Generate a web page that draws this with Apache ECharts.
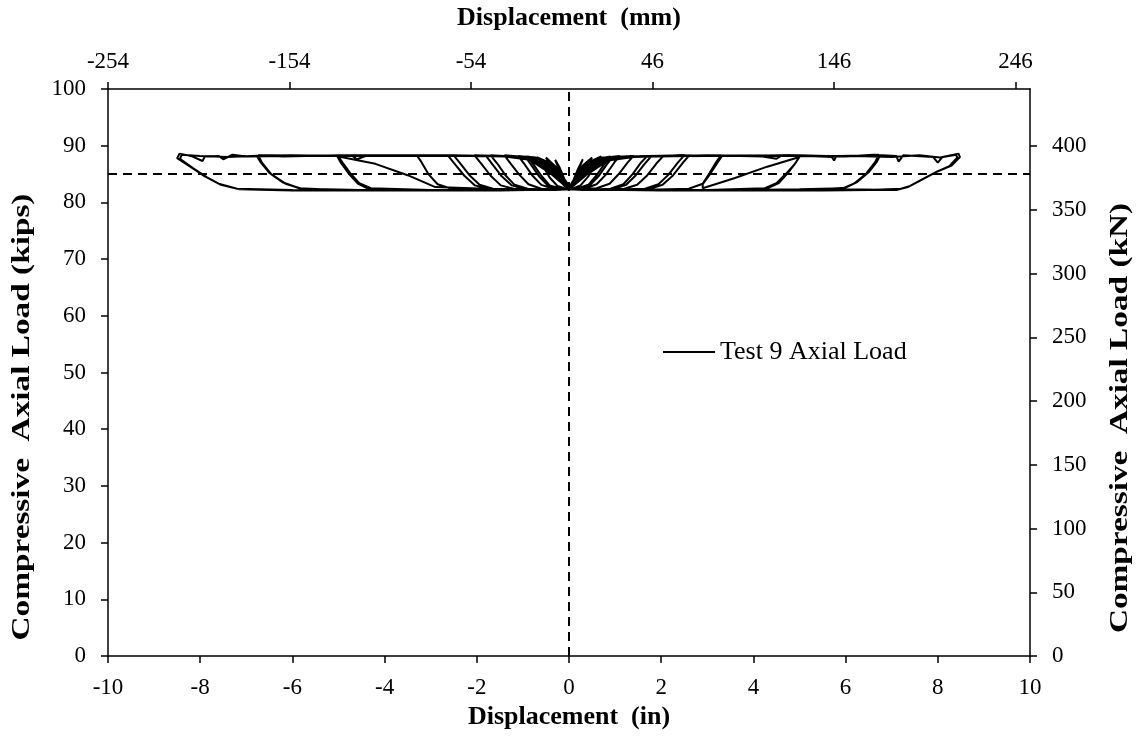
<!DOCTYPE html>
<html>
<head>
<meta charset="utf-8">
<title>Test 9 Axial Load</title>
<script src="https://cdn.jsdelivr.net/npm/echarts@6/dist/echarts.min.js"></script>
<style>
  html, body { margin: 0; padding: 0; background: #fff; }
  #main { width: 1141px; height: 746px; }
</style>
</head>
<body>
<div id="main"></div>
<script>
// displacement (in) vs compressive axial load (kips), cycle by cycle
var cycle030 = [[0,82.6],[0.1,84.0],[0.2,86.0],[0.3,87.6],[0.22,86.0],[0.12,84.2],[0.02,82.7],[-0.1,84.1],[-0.2,86.1],[-0.3,87.5],[-0.22,85.8],[-0.12,84.0],[0,82.6]];
var cycle050 = [[0,82.5],[0.15,84.5],[0.3,86.5],[0.5,87.9],[0.4,86.8],[0.25,84.6],[0.1,83.0],[0,82.5],[-0.15,84.4],[-0.3,86.4],[-0.5,87.9],[-0.4,86.6],[-0.25,84.4],[-0.1,82.9],[0,82.5]];
var cycle070 = [[0,82.4],[0.2,85.0],[0.4,87.0],[0.7,88.1],[0.58,86.8],[0.42,84.6],[0.25,83.0],[0.1,82.5],[0,82.4],[-0.2,84.9],[-0.4,86.9],[-0.7,88.0],[-0.58,86.6],[-0.42,84.4],[-0.25,82.9],[-0.1,82.5],[0,82.4]];
var cycle090 = [[0,82.4],[0.2,84.6],[0.45,86.8],[0.7,87.8],[0.9,88.1],[0.78,86.9],[0.6,84.8],[0.42,83.1],[0.2,82.5],[0,82.4],[-0.2,84.5],[-0.45,86.7],[-0.7,87.8],[-0.9,88.1],[-0.78,86.8],[-0.6,84.7],[-0.42,83.0],[-0.2,82.5],[0,82.4],
  [0.22,84.8],[0.47,86.9],[0.72,87.9],[0.95,88.0],[0.82,86.7],[0.64,84.6],[0.45,83.0],[0.22,82.4],[0,82.4],[-0.22,84.7],[-0.47,86.8],[-0.72,87.9],[-0.95,88.1],[-0.82,86.6],[-0.64,84.5],[-0.45,82.9],[-0.22,82.4],[0,82.4]];
var cycle110 = [[0,82.4],[0.25,84.8],[0.5,86.9],[0.8,87.9],[1.1,88.2],[0.98,87.0],[0.8,84.9],[0.6,83.2],[0.35,82.5],[0,82.3],[-0.25,84.7],[-0.5,86.8],[-0.8,87.9],[-1.1,88.2],[-0.98,86.9],[-0.8,84.8],[-0.6,83.1],[-0.35,82.4],[0,82.3]];
var cycle140 = [[0,82.3],[0.3,85.0],[0.6,87.2],[0.95,88.0],[1.4,88.2],[1.27,87.0],[1.08,85.0],[0.88,83.3],[0.6,82.5],[0.2,82.3],[0,82.3],[-0.3,84.9],[-0.6,87.1],[-0.95,88.0],[-1.4,88.3],[-1.27,86.9],[-1.08,84.9],[-0.88,83.2],[-0.6,82.4],[-0.2,82.3],[0,82.3]];
var cycle170 = [[0,82.3],[0.3,84.9],[0.65,87.3],[1.0,88.0],[1.7,88.2],[1.56,87.0],[1.38,85.0],[1.18,83.2],[0.9,82.4],[0.3,82.2],[0,82.3],[-0.3,84.8],[-0.65,87.2],[-1.0,88.0],[-1.7,88.3],[-1.56,86.9],[-1.38,84.8],[-1.18,83.1],[-0.9,82.4],[-0.3,82.2],[0,82.3],
  [0.32,85.0],[0.68,87.4],[1.05,88.1],[1.78,88.1],[1.64,86.8],[1.45,84.8],[1.24,83.1],[0.95,82.3],[0.3,82.3],[0,82.3],[-0.32,84.9],[-0.68,87.3],[-1.05,88.1],[-1.8,88.2],[-1.66,86.7],[-1.46,84.6],[-1.24,83.0],[-0.95,82.3],[-0.3,82.3],[0,82.3]];
var cycle205 = [[0,82.3],[0.35,85.2],[0.7,87.4],[1.1,88.1],[2.05,88.2],[1.9,86.9],[1.7,84.8],[1.48,83.1],[1.2,82.4],[0.4,82.2],[0,82.3],[-0.35,85.1],[-0.7,87.3],[-1.1,88.1],[-2.05,88.3],[-1.9,86.8],[-1.7,84.7],[-1.48,83.0],[-1.2,82.4],[-0.4,82.2],[0,82.3]];
var cycle250 = [[0,82.3],[0.35,85.1],[0.75,87.5],[1.2,88.1],[2.5,88.3],[2.36,87.0],[2.16,84.9],[1.94,83.2],[1.65,82.4],[0.5,82.2],[0,82.3],[-0.35,85.0],[-0.75,87.4],[-1.2,88.1],[-2.5,88.3],[-2.36,86.9],[-2.16,84.8],[-1.94,83.1],[-1.65,82.4],[-0.5,82.2],[0,82.3],
  [0.37,85.2],[0.77,87.5],[1.25,88.0],[2.6,88.2],[2.46,86.9],[2.26,84.8],[2.03,83.1],[1.72,82.3],[0.5,82.3],[0,82.3],[-0.37,85.1],[-0.77,87.4],[-1.25,88.2],[-2.62,88.2],[-2.48,86.8],[-2.27,84.7],[-2.04,83.0],[-1.72,82.3],[-0.5,82.3],[0,82.3]];
var cycle330 = [[0,82.3],[0.4,85.3],[0.8,87.6],[1.3,88.1],[2.5,88.2],[3.3,88.3],[3.2,87.2],[3.05,85.2],[2.9,83.3],[2.6,82.4],[1.5,82.2],[0,82.3],[-0.4,85.2],[-0.8,87.5],[-1.3,88.1],[-2.5,88.3],[-3.3,88.3],[-3.2,87.1],[-3.05,85.0],[-2.85,83.2],[-2.55,82.4],[-1.5,82.2],[0,82.3],
  [0.4,85.2],[0.8,87.5],[1.3,88.0],[2.4,88.3],[3.32,88.2],[3.22,87.0],[3.06,85.0],[2.9,83.2],[2.9,82.5]];
var cycle500 = [[2.9,82.5],[3.6,84.3],[4.3,86.3],[5.0,88.0],[4.9,86.8],[4.7,85.0],[4.5,83.4],[4.25,82.5],[3.0,82.2],[1.5,82.3],[0,82.3],[-1.5,82.3],[-2.9,82.7],[-3.5,84.8],[-4.2,86.8],[-5.0,88.1],[-4.9,86.9],[-4.75,85.2],[-4.55,83.4],[-4.3,82.5],[-3.0,82.2],[-1.5,82.2],[0,82.3],
  [0.4,85.3],[0.85,87.6],[1.4,88.1],[3.0,88.3],[4.2,88.1],[4.5,87.7],[4.6,88.2],[5.0,88.2],[4.92,87.0],[4.75,85.2],[4.55,83.4],[4.3,82.5],[3.0,82.1],[1.5,82.2],[0,82.3],
  [-0.4,85.2],[-0.85,87.5],[-1.4,88.1],[-3.0,88.3],[-4.4,88.2],[-4.6,87.6],[-4.7,88.2],[-5.03,88.2],[-4.95,87.0],[-4.78,85.1],[-4.58,83.3],[-4.35,82.4],[-3.0,82.1],[-1.5,82.2],[0,82.3]];
var cycle675 = [[0.4,85.2],[0.85,87.5],[1.4,88.1],[3.0,88.2],[4.8,88.3],[5.7,88.0],[5.75,87.4],[5.8,88.2],[6.75,88.3],[6.68,87.2],[6.5,85.3],[6.25,83.6],[6.0,82.6],[5.0,82.1],[3.0,82.2],[1.5,82.2],[0,82.3],
  [-0.4,85.1],[-0.85,87.5],[-1.4,88.1],[-3.0,88.3],[-5.0,88.2],[-6.0,88.3],[-6.77,88.2],[-6.7,87.2],[-6.5,85.2],[-6.2,83.5],[-5.85,82.5],[-5.0,82.2],[-3.0,82.1],[-1.5,82.2],[0,82.3],
  [0.4,85.1],[0.85,87.4],[1.4,88.0],[3.0,88.3],[5.0,88.2],[6.0,88.1],[6.72,88.4],[6.64,87.1],[6.45,85.1],[6.2,83.4],[5.95,82.5],[5.0,82.3],[3.0,82.1],[1.5,82.2],[0,82.3],
  [-0.4,85.2],[-0.85,87.5],[-1.4,88.2],[-3.0,88.2],[-5.0,88.3],[-6.2,88.1],[-6.74,88.3],[-6.66,87.0],[-6.46,85.0],[-6.15,83.3],[-5.8,82.4],[-4.5,82.2],[-3.0,82.2],[-1.5,82.1],[0,82.3]];
var cycle845 = [[0.4,85.1],[0.85,87.5],[1.4,88.1],[3.0,88.2],[5.0,88.3],[6.0,88.1],[6.6,88.4],[7.1,88.2],[7.15,87.2],[7.25,88.3],[7.9,88.0],[8.0,87.0],[8.1,88.0],[8.45,88.6],[8.48,88.0],[8.3,86.5],[8.0,85.5],[7.7,84.2],[7.4,82.9],[7.2,82.4],[6.5,82.2],[5.5,82.1],[4.0,82.2],[2.0,82.1],[0,82.3],
  [-0.4,85.1],[-0.85,87.5],[-1.4,88.1],[-3.0,88.3],[-5.0,88.3],[-6.0,88.2],[-7.0,88.1],[-7.3,88.4],[-7.5,87.6],[-7.6,88.2],[-7.9,88.1],[-7.95,87.3],[-8.2,88.2],[-8.45,88.6],[-8.5,87.8],[-8.2,86.2],[-7.9,84.6],[-7.6,83.3],[-7.2,82.4],[-6.0,82.2],[-4.0,82.1],[-2.0,82.2],[0,82.3],
  [0.4,85.0],[0.85,87.4],[1.4,88.0],[3.0,88.3],[5.0,88.2],[6.2,88.2],[7.0,88.0],[7.6,88.3],[8.05,87.9],[8.4,88.4],[8.42,87.9],[8.25,86.4],[7.95,85.3],[7.65,84.0],[7.35,82.7],[7.1,82.2],[6.0,82.3],[4.0,82.1],[2.0,82.2],[0,82.3],
  [-0.4,85.2],[-0.85,87.6],[-1.4,88.2],[-3.0,88.2],[-5.0,88.2],[-6.5,88.3],[-7.4,88.0],[-8.0,88.2],[-8.4,88.4],[-8.44,87.7],[-8.15,86.0],[-7.85,84.4],[-7.55,83.1],[-7.15,82.3],[-6.0,82.1],[-4.0,82.2],[-2.0,82.2],[0,82.3]];

var axialLoad = [].concat(cycle030, cycle050, cycle070, cycle090, cycle110, cycle140, cycle170,
  cycle205, cycle250, cycle330, cycle500, cycle675, cycle845);

// dashed guide lines
var refLoadLine = [[-10, 85], [10, 85]];
var zeroDispLine = [[0, 0], [0, 100]];

var INCH_TO_MM = 25.4;
var KIP_TO_KN = 4.448222;

var chart = echarts.init(document.getElementById('main'));
var font = 'Liberation Serif';
var titleFont = 'bold 26px "Liberation Serif"';

function axisBase() {
  return {
    axisLine: { show: true, onZero: false, lineStyle: { color: '#000', width: 1.5 } },
    axisTick: { show: true, inside: false, length: 7, lineStyle: { color: '#000', width: 1.5 } },
    axisLabel: { color: '#000', fontFamily: font, fontSize: 23 },
    splitLine: { show: false },
    nameLocation: 'middle',
    nameTextStyle: { color: '#000', fontFamily: font, fontSize: 26, fontWeight: 'bold' }
  };
}

var xBottom = echarts.util.merge(axisBase(), {
  type: 'value', position: 'bottom', min: -10, max: 10, interval: 2,
  name: 'Displacement  (in)', nameGap: 48
});
xBottom.axisLabel.margin = 20;

var xTop = echarts.util.merge(axisBase(), {
  type: 'value', position: 'top', min: 0, max: 20 * INCH_TO_MM, interval: 100,
  name: 'Displacement  (mm)', nameGap: 58
});
xTop.axisLabel.margin = 16;
xTop.axisLabel.showMaxLabel = false;
xTop.axisLabel.formatter = function (v) { return String(Math.round(v - 10 * INCH_TO_MM)); };

// vertical titles are drawn as graphic text (stretched along their length like the original)
var yLeft = echarts.util.merge(axisBase(), {
  type: 'value', position: 'left', min: 0, max: 100, interval: 10
});
yLeft.axisLabel.margin = 22;

var yRight = echarts.util.merge(axisBase(), {
  type: 'value', position: 'right', min: 0, max: 100 * KIP_TO_KN, interval: 50
});
yRight.axisLabel.margin = 22;
yRight.axisLabel.showMaxLabel = false;

chart.setOption({
  animation: false,
  backgroundColor: '#fff',
  grid: { left: 108, right: 111, top: 88, bottom: 90 },
  legend: {
    data: ['Test 9 Axial Load'],
    left: 658, top: 334,
    itemWidth: 52, itemHeight: 14, itemGap: 8,
    icon: 'path://M0,6 L50,6 L50,8 L0,8 Z',
    textStyle: { color: '#000', fontFamily: font, fontSize: 26 }
  },
  graphic: [
    {
      type: 'text', x: 22, y: 417, rotation: Math.PI / 2, scaleX: 1.28,
      style: { text: 'Compressive  Axial Load (kips)', font: titleFont, fill: '#000', align: 'center', verticalAlign: 'middle' }
    },
    {
      type: 'text', x: 1120, y: 418, rotation: Math.PI / 2, scaleX: 1.28,
      style: { text: 'Compressive  Axial Load (kN)', font: titleFont, fill: '#000', align: 'center', verticalAlign: 'middle' }
    }
  ],
  xAxis: [xBottom, xTop],
  yAxis: [yLeft, yRight],
  series: [
    {
      name: 'Test 9 Axial Load',
      type: 'line',
      xAxisIndex: 0, yAxisIndex: 0,
      data: axialLoad,
      showSymbol: false,
      symbol: 'none',
      itemStyle: { color: '#000' },
      lineStyle: { color: '#000', width: 2 },
      z: 3
    },
    {
      name: 'ref85',
      type: 'line',
      xAxisIndex: 0, yAxisIndex: 0,
      data: refLoadLine,
      symbol: 'none',
      lineStyle: { color: '#000', width: 2, type: [9, 6] },
      z: 2
    },
    {
      name: 'zero',
      type: 'line',
      xAxisIndex: 0, yAxisIndex: 0,
      data: zeroDispLine,
      symbol: 'none',
      lineStyle: { color: '#000', width: 2, type: [9, 6] },
      z: 2
    }
  ]
});
</script>
</body>
</html>
